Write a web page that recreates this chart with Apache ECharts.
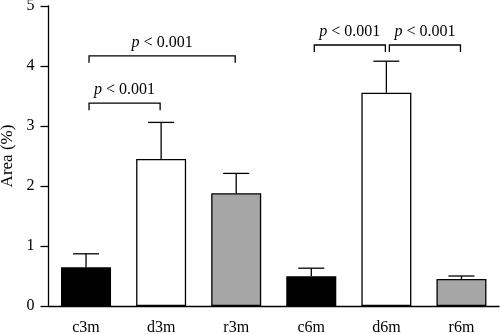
<!DOCTYPE html>
<html><head><meta charset="utf-8">
<script src="https://cdn.jsdelivr.net/npm/echarts@6/dist/echarts.min.js"></script>
<style>html,body{margin:0;padding:0;background:#fff}#c{width:500px;height:334px}</style>
</head><body><div id="c"></div>
<script>
const categories = ['c3m','d3m','r3m','c6m','d6m','r6m'];
const means = [0.645, 2.45, 1.88, 0.495, 3.555, 0.45];
const upper = [0.87, 3.06, 2.21, 0.63, 4.08, 0.5];
const barColors = ['#000000','#ffffff','#a6a6a6','#000000','#ffffff','#a6a6a6'];
const yTicks = [0,1,2,3,4,5];
// brackets: [from index, to index, level (data units)]
const bracketFrom = [0, 0, 3, 4];
const bracketTo = [1, 2, 4, 5];
const bracketLevel = [3.38, 4.17, 4.35, 4.35];
const bracketText = ['p < 0.001','p < 0.001','p < 0.001','p < 0.001'];

const FONT = '"Liberation Serif", "DejaVu Serif", serif';
const chart = echarts.init(document.getElementById('c'), null, {renderer:'canvas'});

const barData = means.map((v,i)=>({value:v, itemStyle:{color:barColors[i]}}));
const errData = means.map((v,i)=>[i, v, upper[i]]);
const brData = bracketFrom.map((f,i)=>[f, bracketTo[i], bracketLevel[i], i]);

chart.setOption({
  animation:false,
  grid:{left:48.5, right:1, top:6, bottom:28, containLabel:false, outerBoundsMode:'none'},
  xAxis:{
    type:'category', data:categories,
    axisLine:{lineStyle:{color:'#000', width:1.3}},
    axisTick:{alignWithLabel:true, length:8, lineStyle:{color:'#000', width:1.3}},
    axisLabel:{color:'#000', fontFamily:FONT, fontSize:16, margin:14}
  },
  yAxis:{
    type:'value', min:0, max:5, interval:1,
    name:'Area (%)', nameLocation:'middle', nameGap:32,
    nameTextStyle:{color:'#000', fontFamily:FONT, fontSize:17},
    axisLine:{show:true, lineStyle:{color:'#000', width:1.3}},
    axisTick:{show:true, length:8, lineStyle:{color:'#000', width:1.3}},
    axisLabel:{color:'#000', fontFamily:FONT, fontSize:16, margin:14,
      formatter:v=>yTicks.includes(v)?String(v):''},
    splitLine:{show:false}
  },
  series:[
    {type:'bar', data:barData, barWidth:50,
     itemStyle:{borderColor:'#000', borderWidth:1.3}, z:2},
    {type:'custom', data:errData, z:3,
     renderItem:function(params, api){
       const i = api.value(0);
       const top = api.coord([i, api.value(1)]);
       const up = api.coord([i, api.value(2)]);
       const hw = 13;
       return {type:'group', children:[
         {type:'line', shape:{x1:top[0], y1:top[1], x2:up[0], y2:up[1]}, style:{stroke:'#000', lineWidth:1.3}},
         {type:'line', shape:{x1:up[0]-hw, y1:up[1], x2:up[0]+hw, y2:up[1]}, style:{stroke:'#000', lineWidth:1.3}}
       ]};
     }},
    {type:'custom', data:brData, z:4,
     renderItem:function(params, api){
       const a = api.coord([api.value(0), api.value(2)]);
       const b = api.coord([api.value(1), api.value(2)]);
       const idx = api.value(3);
       const x1 = a[0]+3, x2 = b[0]-1, y = a[1];
       const d = 7;
       const t = bracketText[idx].replace(/^p/, '');
       return {type:'group', children:[
         {type:'polyline', shape:{points:[[x1,y+d],[x1,y],[x2,y],[x2,y+d]]}, style:{stroke:'#000', lineWidth:1.3, fill:null}},
         {type:'text', x:(x1+x2)/2, y:y-5, style:{
           text:'{i|p}{n|'+t+'}', align:'center', verticalAlign:'bottom',
           rich:{i:{fontFamily:FONT, fontStyle:'italic', fontSize:16, fill:'#000'},
                 n:{fontFamily:FONT, fontSize:16, fill:'#000'}}}}
       ]};
     }}
  ]
});
</script></body></html>
